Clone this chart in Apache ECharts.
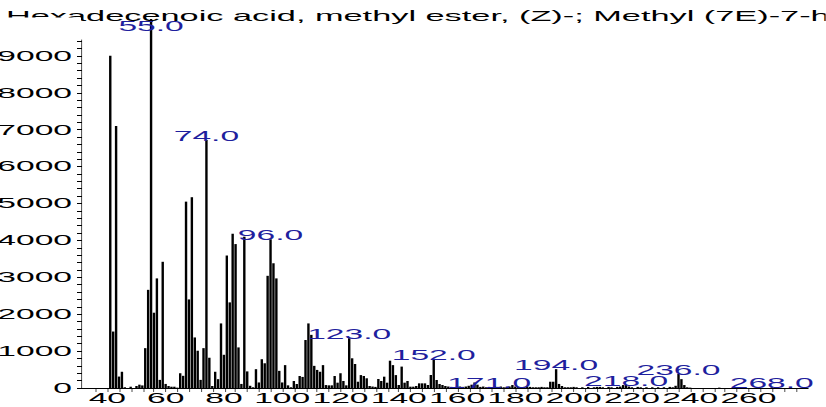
<!DOCTYPE html>
<html>
<head>
<meta charset="utf-8">
<script src="https://cdn.jsdelivr.net/npm/echarts@6/dist/echarts.min.js"></script>
<style>
html,body{margin:0;padding:0;background:#fff;overflow:hidden;}
#wrap{position:absolute;left:0;top:0;width:826px;height:407px;overflow:hidden;}
#chart{position:absolute;left:0;top:0;width:344.1667px;height:407px;transform:scaleX(2.4);transform-origin:0 0;}
</style>
</head>
<body>
<div id="wrap"><div id="chart"></div></div>
<script>
// ---- data ----
const titleText = "Hexadecenoic acid, methyl ester, (Z)-; Methyl (7E)-7-hexadecenoate";
const mz = [41,42,43,44,45,46,48,50,51,52,53,54,55,56,57,58,59,60,61,62,63,64,65,66,67,68,69,70,71,72,73,74,75,76,77,78,79,80,
  81,82,83,84,85,86,87,88,89,90,91,92,93,94,95,96,97,98,99,100,101,102,103,104,105,106,107,108,109,110,111,112,113,114,115,116,117,118,119,120,
  121,122,123,124,125,126,127,128,129,130,131,132,133,134,135,136,137,138,139,140,141,142,143,144,145,146,147,148,149,150,151,152,153,154,155,156,
  157,158,159,160,161,162,163,164,165,166,167,168,169,170,171,172,173,174,175,176,177,178,179,180,181,182,183,184,185,186,187,188,189,190,191,
  192,193,194,195,196,197,198,199,200,201,203,205,207,208,209,210,212,213,215,216,217,218,219,220,222,223,225,227,229,231,233,234,235,236,237,238,239,240,250,268];
const intensity = [9000,1530,7100,310,440,20,35,55,90,70,1080,2660,9999,2040,2970,220,3420,110,55,35,35,10,400,330,5050,2400,5170,1370,1010,220,1080,6720,820,55,440,240,1750,900,
  3590,2320,4180,3900,1100,110,4100,450,60,20,510,150,780,670,3040,4030,3380,2970,465,150,620,72,20,190,108,325,300,1300,1750,1440,600,490,440,620,80,72,72,325,144,400,
  190,72,1350,805,650,170,350,325,263,54,40,30,244,190,307,144,740,620,350,81,580,144,190,36,36,54,126,126,126,81,352,778,217,108,81,54,
  40,30,20,60,40,30,40,60,90,150,90,30,40,20,30,20,40,30,40,20,30,40,80,40,30,20,30,40,30,20,20,20,30,20,20,
  170,170,510,110,54,20,20,20,30,20,20,30,20,30,30,20,30,20,30,40,80,80,40,20,30,20,20,20,20,20,30,20,60,380,240,80,20,10,10,20];
const labeledPeaks = [55,74,96,123,152,171,194,218,236,268];
const xTicks = []; for (let v = 36; v <= 276; v += 4) xTicks.push(v);
const xLabels = [40,60,80,100,120,140,160,180,200,220,240,260];
const yTicks = []; for (let v = 0; v <= 9400; v += 200) yTicks.push(v);
const yLabels = [0,1000,2000,3000,4000,5000,6000,7000,8000,9000];

// ---- layout ----
const K = 2.4; // horizontal stretch of the picture
const font = "Liberation Sans, Arial, sans-serif";
const seriesData = mz.map((m, i) => {
  const item = { value: [m, intensity[i]] };
  if (labeledPeaks.includes(m)) {
    item.label = { show: true, offset: m === 55 ? [0, 14] : [0, 3] };
  }
  return item;
});

const chart = echarts.init(document.getElementById('chart'), null, { renderer: 'svg' });
chart.setOption({
  animation: false,
  backgroundColor: '#fff',
  title: {
    text: titleText, left: 6.0 / K, top: 9, padding: 0,
    textStyle: { fontSize: 14.3, fontWeight: 'normal', color: '#000', fontFamily: font }
  },
  graphic: [{ type: 'rect', left: 0, top: 17.5, z: 100, shape: { width: 81 / K, height: 18 }, style: { fill: '#fff' } }],
  grid: { left: 82 / K, right: 18 / K, top: 40, bottom: 19, outerBoundsMode: 'none', containLabel: false },
  xAxis: {
    type: 'value', min: 31.3, max: 280.3,
    axisLine: { lineStyle: { color: '#000', width: 1 } },
    axisTick: { customValues: xTicks, length: 4, lineStyle: { color: '#000', width: 1 / K } },
    axisLabel: { customValues: xLabels, fontSize: 14, color: '#000', margin: 3, fontFamily: font, hideOverlap: false },
    splitLine: { show: false }
  },
  yAxis: {
    type: 'value', min: 0, max: 9430, z: 10,
    axisLine: { show: true, lineStyle: { color: '#000', width: 1 / K } },
    axisTick: { show: true, customValues: yTicks, length: 5 / K, lineStyle: { color: '#000', width: 1 } },
    axisLabel: { customValues: yLabels, fontSize: 14, color: '#000', margin: 10 / K, fontFamily: font,
      formatter: v => String(v) },
    splitLine: { show: false }
  },
  series: [{
    type: 'bar', data: seriesData, barWidth: 1.5 / K, clip: false,
    itemStyle: { color: '#000' },
    label: {
      show: false, position: 'top', distance: 0, fontSize: 14, color: '#1f1f9e', fontFamily: font,
      formatter: p => p.value[0].toFixed(1)
    }
  }]
});
</script>
</body>
</html>
